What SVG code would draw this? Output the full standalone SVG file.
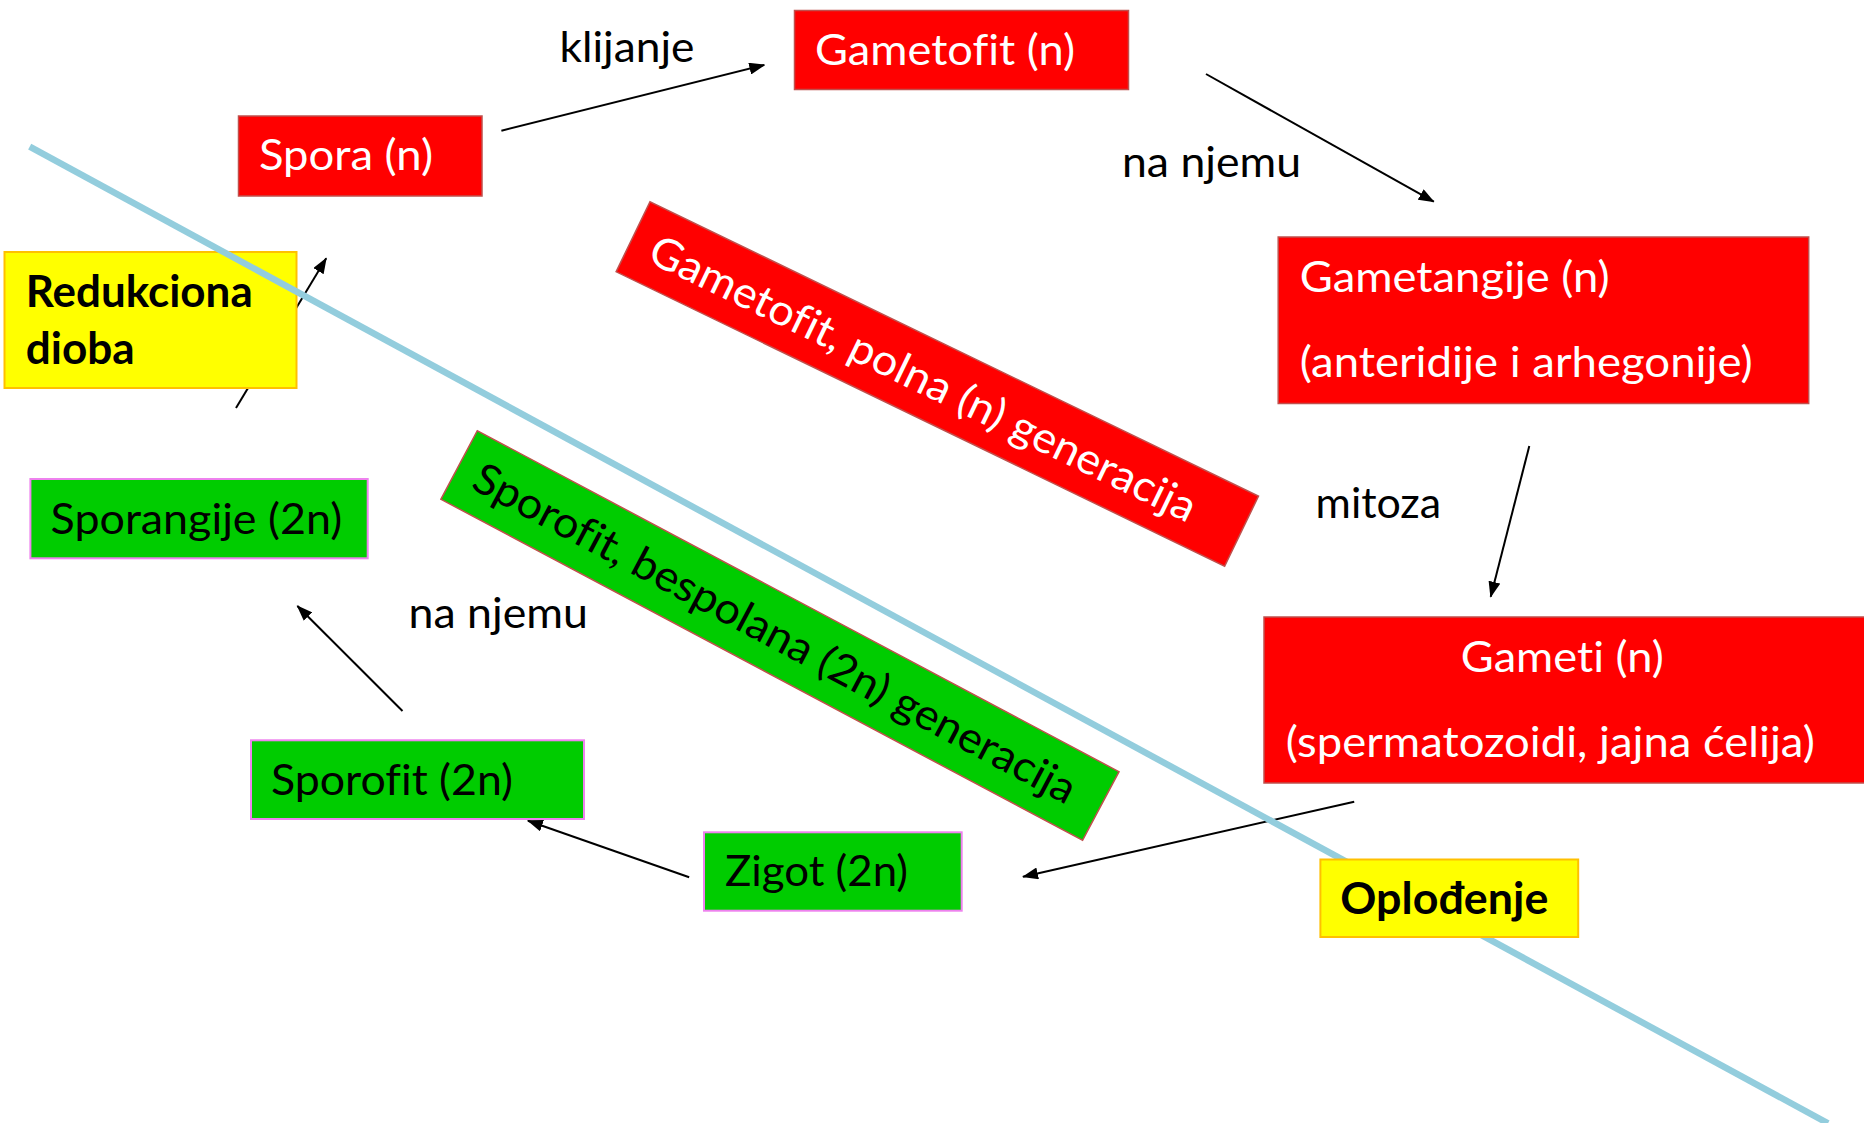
<svg xmlns="http://www.w3.org/2000/svg" width="1864" height="1123" viewBox="0 0 1864 1123">
<style>
  .t { font-family: Lato, "Noto Sans", "Liberation Sans", sans-serif; font-size: 43px; font-variant-ligatures: none; font-feature-settings: "liga" 0, "clig" 0; }
  .b { font-weight: bold; }
  .w { fill: #FFFFFF; }
  .k { fill: #000000; }
  .red { fill: #FF0000; stroke: #C0504D; stroke-width: 1.5; }
  .grn { fill: #00CC00; stroke: #EE82EE; stroke-width: 2; }
  .grn2 { fill: #00CC00; stroke: #C0504D; stroke-width: 1.5; }
  .yel { fill: #FFFF00; stroke: #FFC000; stroke-width: 2; }
  .conn { stroke: #000000; stroke-width: 2; fill: none; marker-end: url(#ah); }
  .divider { stroke: #93CDDD; stroke-width: 6.5; fill: none; }
</style>
<defs>
  <marker id="ah" markerUnits="userSpaceOnUse" markerWidth="16" markerHeight="12" refX="15" refY="6" orient="auto" viewBox="0 0 16 12">
    <path d="M0,0 L16,6 L0,12 z" fill="#000000"/>
  </marker>
</defs>
<rect x="0" y="0" width="1864" height="1123" fill="#FFFFFF"/>

<g id="connectors">
  <line class="conn" x1="501.4" y1="130.7" x2="764.3" y2="65"/>
  <line class="conn" x1="1206" y1="74" x2="1433.8" y2="201.7"/>
  <line class="conn" x1="1529.3" y1="446" x2="1490.7" y2="596.7"/>
  <line class="conn" x1="1354.2" y1="801.7" x2="1023" y2="876.7"/>
  <line class="conn" x1="689.2" y1="877.3" x2="527.9" y2="820.7"/>
  <line class="conn" x1="402.5" y1="711" x2="297.4" y2="606"/>
  <line class="conn" x1="236" y1="408" x2="326.2" y2="258.3"/>
</g>

<g id="labels">
  <text class="t k" x="559.5" y="62" textLength="135" lengthAdjust="spacingAndGlyphs">klijanje</text>
  <text class="t k" x="1122" y="177" textLength="179" lengthAdjust="spacingAndGlyphs">na njemu</text>
  <text class="t k" x="1315.6" y="518" textLength="125.5" lengthAdjust="spacingAndGlyphs">mitoza</text>
  <text class="t k" x="408.5" y="628" textLength="179.5" lengthAdjust="spacingAndGlyphs">na njemu</text>
</g>

<g id="redukciona">
  <rect class="yel" x="4.5" y="252" width="292" height="136"/>
  <text class="t b k" x="25.7" y="306.7" textLength="227" lengthAdjust="spacingAndGlyphs">Redukciona</text>
  <text class="t b k" x="25.7" y="364" textLength="109" lengthAdjust="spacingAndGlyphs">dioba</text>
</g>

<g id="divider">
  <line class="divider" x1="29.7" y1="146.7" x2="1828" y2="1123.3"/>
</g>

<g id="spora">
  <rect class="red" x="238.5" y="116" width="243.5" height="80"/>
  <text class="t w" x="259" y="170" textLength="174" lengthAdjust="spacingAndGlyphs">Spora (n)</text>
</g>

<g id="gametofit">
  <rect class="red" x="794.5" y="10.5" width="334" height="79"/>
  <text class="t w" x="815" y="65" textLength="260" lengthAdjust="spacingAndGlyphs">Gametofit (n)</text>
</g>

<g id="gametangije">
  <rect class="red" x="1278.2" y="237" width="530.5" height="166.5"/>
  <text class="t w" x="1299.7" y="291.7" textLength="310" lengthAdjust="spacingAndGlyphs">Gametangije (n)</text>
  <text class="t w" x="1299.7" y="376.7" textLength="453" lengthAdjust="spacingAndGlyphs">(anteridije i arhegonije)</text>
</g>

<g id="gameti">
  <rect class="red" x="1264" y="617" width="620" height="166"/>
  <text class="t w" x="1460.8" y="671.7" textLength="203" lengthAdjust="spacingAndGlyphs">Gameti (n)</text>
  <text class="t w" x="1285.8" y="756.7" textLength="529" lengthAdjust="spacingAndGlyphs">(spermatozoidi, jajna ćelija)</text>
</g>

<g id="oplodjenje">
  <rect class="yel" x="1320.4" y="859.5" width="257.8" height="77.5"/>
  <text class="t b k" x="1340.3" y="914" textLength="208" lengthAdjust="spacingAndGlyphs">Oplođenje</text>
</g>

<g id="zigot">
  <rect class="grn" x="704" y="832.3" width="257.7" height="78.4"/>
  <text class="t k" x="725" y="885.7" textLength="183" lengthAdjust="spacingAndGlyphs">Zigot (2n)</text>
</g>

<g id="sporofit">
  <rect class="grn" x="251" y="740.3" width="333" height="78.7"/>
  <text class="t k" x="271" y="795" textLength="242" lengthAdjust="spacingAndGlyphs">Sporofit (2n)</text>
</g>

<g id="sporangije">
  <rect class="grn" x="30.4" y="479" width="337.3" height="79.3"/>
  <text class="t k" x="50.6" y="534" textLength="291.5" lengthAdjust="spacingAndGlyphs">Sporangije (2n)</text>
</g>

<g id="gametofit-generacija" transform="translate(650,201.7) rotate(25.82)">
  <rect class="red" x="0" y="0" width="676" height="77.8"/>
  <text class="t w" x="22" y="55" textLength="602" lengthAdjust="spacingAndGlyphs">Gametofit, polna (n) generacija</text>
</g>

<g id="sporofit-generacija" transform="translate(477.3,430.7) rotate(27.99)">
  <rect class="grn2" x="0" y="0" width="726.7" height="77.6"/>
  <text class="t k" x="20" y="54" textLength="676" lengthAdjust="spacingAndGlyphs">Sporofit, bespolana (2n) generacija</text>
</g>
</svg>
